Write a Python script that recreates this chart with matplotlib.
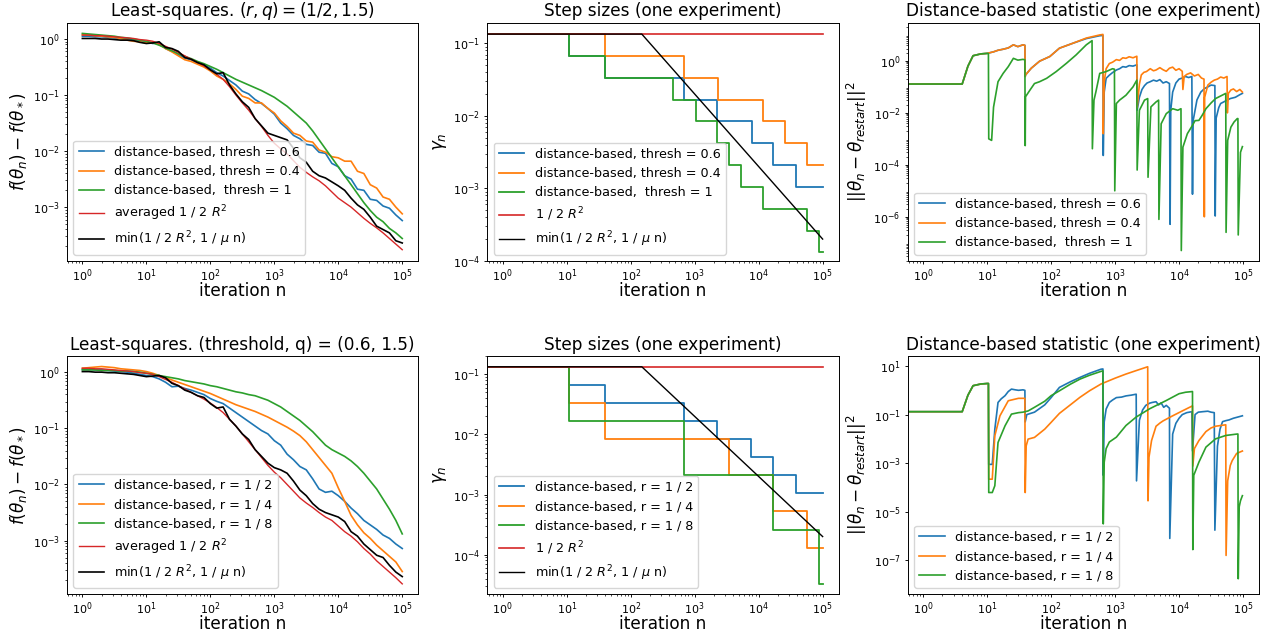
import numpy as np
import matplotlib
matplotlib.use("Agg")
import matplotlib.pyplot as plt

# ---------------------------------------------------------------------------
# values. Suboptimality curves use a log10(n) grid,
# stored as log10 of the plotted value.
# ---------------------------------------------------------------------------
log_n_grid = [0.0, 0.1, 0.2, 0.3, 0.4, 0.5, 0.6, 0.7, 0.8, 0.9,
              1.0, 1.1, 1.2, 1.3, 1.4, 1.5, 1.6, 1.7, 1.8, 1.9,
              2.0, 2.1, 2.2, 2.3, 2.4, 2.5, 2.6, 2.7, 2.8, 2.9,
              3.0, 3.1, 3.2, 3.3, 3.4, 3.5, 3.6, 3.7, 3.8, 3.9,
              4.0, 4.1, 4.2, 4.3, 4.4, 4.5, 4.6, 4.7, 4.8, 4.9, 5.0]

# top row: thresholds
top_thresh06 = [0.05, 0.05, 0.04, 0.04, 0.03, 0.02, 0.01, 0.00, -0.02, -0.03,
                -0.05, -0.08, -0.06, -0.17, -0.22, -0.28, -0.34, -0.37, -0.42, -0.46,
                -0.52, -0.60, -0.66, -0.74, -0.82, -0.93, -0.98, -1.08, -1.15, -1.24,
                -1.34, -1.50, -1.60, -1.72, -1.78, -1.88, -1.90, -2.02, -2.04, -2.22,
                -2.28, -2.44, -2.50, -2.68, -2.70, -2.86, -2.88, -2.98, -3.02, -3.14, -3.24]
top_thresh04 = [0.08, 0.07, 0.06, 0.05, 0.04, 0.03, 0.01, -0.02, -0.04, -0.05,
                -0.07, -0.06, -0.10, -0.17, -0.23, -0.30, -0.37, -0.40, -0.45, -0.50,
                -0.57, -0.66, -0.72, -0.80, -0.90, -1.02, -1.06, -1.14, -1.14, -1.24,
                -1.32, -1.46, -1.56, -1.68, -1.72, -1.82, -1.84, -1.98, -2.02, -2.10,
                -2.12, -2.18, -2.18, -2.36, -2.40, -2.60, -2.66, -2.82, -2.86, -3.00, -3.12]
top_thresh1 = [0.10, 0.09, 0.08, 0.07, 0.06, 0.05, 0.03, 0.02, 0.00, -0.02,
               -0.04, -0.07, -0.11, -0.16, -0.21, -0.26, -0.31, -0.35, -0.40, -0.44,
               -0.49, -0.54, -0.60, -0.66, -0.72, -0.77, -0.82, -0.87, -0.92, -0.98,
               -1.04, -1.12, -1.20, -1.30, -1.40, -1.50, -1.64, -1.80, -1.96, -2.12,
               -2.28, -2.44, -2.60, -2.76, -2.92, -3.06, -3.18, -3.26, -3.38, -3.46, -3.56]
top_avg = [0.07, 0.07, 0.06, 0.06, 0.05, 0.04, 0.03, 0.02, 0.01, -0.01,
           -0.02, -0.04, -0.08, -0.13, -0.18, -0.24, -0.30, -0.36, -0.42, -0.48,
           -0.55, -0.63, -0.72, -0.85, -1.00, -1.14, -1.27, -1.42, -1.56, -1.72,
           -1.86, -1.96, -2.05, -2.17, -2.29, -2.38, -2.46, -2.53, -2.62, -2.73,
           -2.84, -2.92, -3.00, -3.10, -3.20, -3.29, -3.37, -3.46, -3.56, -3.66, -3.76]
top_min = [0.01, 0.01, 0.01, 0.00, 0.00, -0.01, -0.02, -0.02, -0.03, -0.06,
           -0.08, -0.07, -0.05, -0.15, -0.17, -0.22, -0.33, -0.36, -0.42, -0.46,
           -0.55, -0.62, -0.60, -0.82, -0.98, -1.12, -1.22, -1.42, -1.55, -1.68,
           -1.72, -1.76, -1.80, -1.95, -2.12, -2.20, -2.36, -2.44, -2.48, -2.55,
           -2.62, -2.70, -2.84, -2.96, -3.04, -3.18, -3.34, -3.40, -3.46, -3.60, -3.64]

# bottom row: ratios r
bot_r2 = [0.05, 0.05, 0.04, 0.04, 0.03, 0.02, 0.01, 0.00, -0.02, -0.04,
          -0.06, -0.08, -0.12, -0.18, -0.26, -0.25, -0.29, -0.32, -0.36, -0.40,
          -0.47, -0.52, -0.56, -0.64, -0.72, -0.80, -0.88, -0.96, -1.04, -1.10,
          -1.22, -1.30, -1.46, -1.56, -1.68, -1.74, -1.90, -2.08, -2.14, -2.12,
          -2.20, -2.30, -2.42, -2.52, -2.64, -2.72, -2.80, -2.90, -2.96, -3.06, -3.14]
bot_r4 = [0.07, 0.08, 0.09, 0.10, 0.09, 0.08, 0.06, 0.05, 0.04, 0.03,
          0.01, -0.02, -0.06, -0.10, -0.14, -0.18, -0.22, -0.26, -0.30, -0.34,
          -0.38, -0.43, -0.48, -0.53, -0.58, -0.62, -0.66, -0.70, -0.75, -0.80,
          -0.86, -0.92, -0.98, -1.05, -1.13, -1.24, -1.38, -1.52, -1.66, -1.80,
          -2.06, -2.30, -2.55, -2.72, -2.86, -2.96, -3.08, -3.18, -3.28, -3.38, -3.55]
bot_r8 = [0.04, 0.04, 0.04, 0.03, 0.03, 0.03, 0.02, 0.02, 0.01, 0.00,
          -0.02, -0.04, -0.06, -0.08, -0.10, -0.12, -0.15, -0.17, -0.19, -0.21,
          -0.24, -0.26, -0.29, -0.32, -0.35, -0.37, -0.40, -0.42, -0.46, -0.50,
          -0.56, -0.62, -0.70, -0.78, -0.86, -0.96, -1.06, -1.18, -1.30, -1.38,
          -1.44, -1.50, -1.58, -1.68, -1.80, -1.94, -2.08, -2.26, -2.44, -2.64, -2.88]
bot_avg = [0.07, 0.07, 0.06, 0.06, 0.05, 0.04, 0.03, 0.02, 0.01, -0.01,
           -0.02, -0.04, -0.08, -0.13, -0.18, -0.24, -0.30, -0.36, -0.42, -0.48,
           -0.55, -0.63, -0.72, -0.84, -0.96, -1.10, -1.24, -1.38, -1.52, -1.66,
           -1.78, -1.88, -2.00, -2.12, -2.24, -2.33, -2.41, -2.50, -2.58, -2.64,
           -2.74, -2.84, -2.92, -3.02, -3.14, -3.24, -3.36, -3.46, -3.56, -3.66, -3.77]
bot_min = [0.01, 0.01, 0.00, 0.00, -0.01, -0.01, -0.02, -0.03, -0.04, -0.06,
           -0.08, -0.07, -0.06, -0.10, -0.20, -0.24, -0.32, -0.36, -0.42, -0.45,
           -0.56, -0.64, -0.62, -0.84, -0.96, -1.10, -1.20, -1.38, -1.50, -1.62,
           -1.70, -1.74, -1.80, -1.94, -2.10, -2.20, -2.34, -2.44, -2.50, -2.54,
           -2.58, -2.66, -2.84, -2.92, -3.06, -3.16, -3.26, -3.30, -3.44, -3.56, -3.64]

# step sizes: change points (n) and step value after each change
gamma_const_n = [0.5, 100000]
gamma_const = [0.134, 0.134]
gamma_min_n = [0.5, 149, 100000]
gamma_min = [0.134, 0.134, 0.0002]

top_step06_n = [0.5, 11, 39, 680, 2270, 7800, 17000, 39000, 100000]
top_step06 = [0.134, 0.067, 0.0335, 0.01675, 0.008375, 0.00419, 0.00209, 0.00105, 0.00105]
top_step04_n = [0.5, 39, 680, 2300, 11500, 25600, 57000, 100000]
top_step04 = [0.134, 0.067, 0.0335, 0.01675, 0.008375, 0.00419, 0.00209, 0.00209]
top_step1_n = [0.5, 11, 39, 455, 1040, 2270, 3400, 5200, 11500, 57000, 87000, 100000]
top_step1 = [0.134, 0.067, 0.0335, 0.01675, 0.008375, 0.00419, 0.00209, 0.00105,
             0.000523, 0.000262, 0.000131, 0.000131]

bot_step2_n = [0.5, 11, 39, 680, 2250, 7700, 17000, 38800, 100000]
bot_step2 = [0.134, 0.067, 0.0335, 0.01675, 0.008375, 0.00419, 0.00209, 0.00105, 0.00105]
bot_step4_n = [0.5, 11, 39, 3450, 17000, 57000, 100000]
bot_step4 = [0.134, 0.0335, 0.008375, 0.00209, 0.000523, 0.000131, 0.000131]
bot_step8_n = [0.5, 11, 680, 17000, 87000, 100000]
bot_step8 = [0.134, 0.01675, 0.00209, 0.000262, 0.0000327, 0.0000327]

# distance statistic, (log10 n, log10 value) pairs
tr_thresh06 = [(-0.3, -0.89), (0.61, -0.89), (0.70, -0.20), (0.78, 0.20), (0.90, 0.27), (1.00, 0.29),
               (1.10, 0.35), (1.17, 0.41), (1.25, 0.45), (1.33, 0.50), (1.41, 0.62), (1.48, 0.55),
               (1.56, 0.62), (1.59, 0.60), (1.595, -0.60), (1.60, -0.54), (1.69, -0.28), (1.82, -0.01),
               (1.98, 0.17), (2.13, 0.49), (2.34, 0.68), (2.55, 0.86), (2.76, 0.97), (2.81, 0.98),
               (2.815, -3.64), (2.83, -1.20), (2.86, -0.67), (2.91, -0.55), (2.96, -0.45), (3.02, -0.35),
               (3.07, -0.30), (3.12, -0.22), (3.17, -0.24), (3.22, -0.18), (3.28, -0.20), (3.34, -0.15),
               (3.345, -1.90), (3.38, -1.40), (3.42, -1.10), (3.46, -0.95), (3.50, -0.85), (3.55, -0.80),
               (3.60, -0.74), (3.65, -0.78), (3.70, -0.72), (3.75, -0.85), (3.80, -0.80), (3.85, -0.87),
               (3.86, -6.29), (3.87, -1.90), (3.90, -1.20), (3.95, -0.85), (4.00, -0.70), (4.05, -0.66),
               (4.10, -0.60), (4.15, -0.64), (4.20, -0.60), (4.21, -5.13), (4.22, -2.30), (4.28, -1.50),
               (4.34, -1.20), (4.40, -1.06), (4.45, -1.00), (4.50, -0.93), (4.56, -0.95),
               (4.565, -5.97), (4.58, -2.20), (4.62, -1.80), (4.65, -1.64), (4.72, -1.55),
               (4.80, -1.45), (4.88, -1.40), (4.95, -1.30), (4.99, -1.25)]
tr_thresh04 = [(-0.3, -0.89), (0.61, -0.89), (0.70, -0.20), (0.78, 0.20), (0.90, 0.27), (1.00, 0.29),
               (1.10, 0.35), (1.17, 0.41), (1.25, 0.45), (1.33, 0.50), (1.41, 0.62), (1.48, 0.55),
               (1.56, 0.62), (1.59, 0.60), (1.595, -0.60), (1.60, -0.54), (1.69, -0.28), (1.82, -0.01),
               (1.98, 0.17), (2.13, 0.49), (2.34, 0.68), (2.55, 0.88), (2.76, 1.00), (2.81, 1.02),
               (2.815, -2.80), (2.83, -0.80), (2.86, -0.30), (2.91, -0.10), (2.96, -0.05), (3.02, 0.05),
               (3.07, 0.02), (3.12, 0.12), (3.17, 0.10), (3.22, 0.16), (3.28, 0.12), (3.34, 0.18),
               (3.345, -1.80), (3.38, -0.90), (3.41, -0.54), (3.45, -0.44), (3.49, -0.41), (3.55, -0.30),
               (3.60, -0.38), (3.64, -0.35), (3.70, -0.26), (3.75, -0.34), (3.80, -0.40), (3.85, -0.28),
               (3.90, -0.24), (3.95, -0.36), (4.00, -0.30), (4.05, -0.40), (4.06, -1.10), (4.08, -0.60),
               (4.12, -0.52), (4.18, -0.46), (4.24, -0.58), (4.30, -0.52), (4.35, -0.66), (4.39, -0.70),
               (4.395, -6.00), (4.40, -1.40), (4.45, -0.93), (4.50, -0.82), (4.55, -0.74), (4.60, -0.70),
               (4.65, -0.62), (4.70, -0.66), (4.75, -0.60), (4.755, -2.00), (4.77, -1.25), (4.81, -1.12),
               (4.85, -1.08), (4.90, -1.18), (4.95, -1.10), (4.99, -1.20)]
tr_thresh1 = [(-0.3, -0.89), (0.61, -0.89), (0.70, -0.20), (0.78, 0.20), (0.90, 0.27), (1.00, 0.29),
              (1.02, 0.28), (1.025, -3.00), (1.07, -3.06), (1.10, -1.78), (1.17, -0.80), (1.25, -0.48),
              (1.33, -0.22), (1.41, 0.10), (1.48, 0.03), (1.56, 0.06), (1.59, 0.04), (1.595, -3.26),
              (1.60, -1.38), (1.67, -1.12), (1.74, -0.87), (1.82, -0.80), (1.93, -0.67), (2.08, -0.41),
              (2.24, -0.09), (2.39, 0.23), (2.55, 0.62), (2.64, 0.78), (2.645, -3.38), (2.67, -1.51),
              (2.70, -1.19), (2.76, -0.48), (2.86, -0.41), (2.96, -0.30), (2.99, -0.32), (2.995, -5.00),
              (3.02, -1.64), (3.07, -1.51), (3.17, -1.32), (3.28, -1.00), (3.34, -0.74), (3.345, -4.20),
              (3.38, -1.90), (3.46, -1.51), (3.51, -1.45), (3.515, -4.48), (3.56, -1.77), (3.64, -1.58),
              (3.68, -1.51), (3.685, -6.10), (3.72, -2.42), (3.80, -2.03), (3.90, -1.84), (3.98, -1.90),
              (4.03, -1.84), (4.035, -7.30), (4.06, -3.32), (4.13, -2.80), (4.21, -2.48), (4.25, -2.30),
              (4.31, -2.29), (4.36, -2.10), (4.42, -1.84), (4.50, -1.62), (4.57, -1.45), (4.65, -1.35),
              (4.73, -1.25), (4.735, -6.60), (4.76, -3.06), (4.81, -2.55), (4.86, -2.35), (4.91, -2.22),
              (4.92, -2.22), (4.925, -6.70), (4.96, -3.52), (4.99, -3.30)]

br_r2 = [(-0.3, -0.88), (0.61, -0.88), (0.70, -0.20), (0.78, 0.19), (0.90, 0.26), (1.00, 0.28),
         (1.02, 0.28), (1.025, -3.05), (1.08, -3.05), (1.12, -1.60), (1.17, -0.50), (1.22, -0.35),
         (1.28, -0.22), (1.33, -0.05), (1.38, 0.05), (1.44, 0.02), (1.49, 0.00), (1.56, 0.02),
         (1.59, 0.00), (1.595, -1.30), (1.62, -1.00), (1.68, -0.95), (1.74, -0.90), (1.82, -0.75),
         (1.90, -0.60), (2.00, -0.30), (2.13, 0.12), (2.30, 0.35), (2.45, 0.53), (2.60, 0.70),
         (2.78, 0.87), (2.81, 0.88), (2.815, -3.50), (2.83, -1.30), (2.86, -0.77), (2.91, -0.50),
         (2.96, -0.40), (3.02, -0.30), (3.10, -0.28), (3.17, -0.23), (3.25, -0.20), (3.33, -0.16),
         (3.335, -3.73), (3.38, -1.23), (3.43, -0.81), (3.48, -0.62), (3.54, -0.53), (3.58, -0.50),
         (3.64, -0.47), (3.68, -0.60), (3.72, -0.52), (3.76, -0.70), (3.80, -0.62), (3.85, -0.74),
         (3.855, -6.10), (3.90, -1.80), (3.95, -1.36), (4.00, -1.15), (4.05, -1.00), (4.12, -0.92),
         (4.20, -0.88), (4.21, -2.50), (4.25, -1.00), (4.30, -0.90), (4.37, -0.88), (4.45, -0.86),
         (4.50, -0.90), (4.55, -0.92), (4.56, -5.76), (4.60, -2.30), (4.64, -1.60), (4.68, -1.29),
         (4.73, -1.25), (4.78, -1.22), (4.85, -1.15), (4.92, -1.10), (4.99, -1.05)]
br_r4 = [(-0.3, -0.88), (0.61, -0.88), (0.70, -0.20), (0.78, 0.19), (0.90, 0.26), (1.00, 0.28),
         (1.02, 0.28), (1.025, -3.66), (1.08, -3.66), (1.12, -1.87), (1.20, -1.05), (1.33, -0.43),
         (1.49, -0.33), (1.59, -0.33), (1.595, -4.21), (1.61, -2.29), (1.64, -2.01), (1.74, -1.94),
         (1.90, -1.60), (2.00, -1.32), (2.13, -0.95), (2.30, -0.60), (2.45, -0.29), (2.60, -0.02),
         (2.78, 0.26), (3.00, 0.50), (3.17, 0.67), (3.35, 0.83), (3.51, 0.97), (3.515, -4.55),
         (3.53, -2.75), (3.57, -2.07), (3.64, -1.48), (3.70, -1.35), (3.75, -1.26), (3.90, -1.05),
         (4.05, -0.85), (4.21, -0.64), (4.215, -3.12), (4.24, -2.40), (4.31, -2.07), (4.42, -1.70),
         (4.50, -1.55), (4.57, -1.48), (4.65, -1.45), (4.73, -1.42), (4.735, -6.80), (4.76, -3.73),
         (4.80, -3.10), (4.83, -2.90), (4.90, -2.60), (4.99, -2.50)]
br_r8 = [(-0.3, -0.88), (0.61, -0.88), (0.70, -0.20), (0.78, 0.19), (0.90, 0.26), (1.00, 0.28),
         (1.02, 0.28), (1.025, -4.21), (1.08, -4.21), (1.12, -3.93), (1.17, -2.15), (1.28, -1.46),
         (1.38, -0.98), (1.49, -0.92), (1.56, -0.90), (1.64, -0.85), (1.74, -0.70), (1.90, -0.45),
         (2.00, -0.22), (2.13, -0.02), (2.30, 0.25), (2.45, 0.46), (2.60, 0.62), (2.78, 0.78),
         (2.81, 0.80), (2.815, -5.50), (2.83, -2.96), (2.86, -2.40), (2.91, -2.13), (3.02, -1.93),
         (3.17, -1.45), (3.33, -1.10), (3.54, -0.76), (3.80, -0.42), (4.00, -0.14), (4.10, -0.08),
         (4.21, -0.05), (4.215, -6.56), (4.23, -3.50), (4.31, -2.96), (4.42, -2.34), (4.57, -2.00),
         (4.73, -1.86), (4.85, -1.82), (4.91, -1.80), (4.92, -1.80), (4.925, -7.76), (4.94, -4.80),
         (4.96, -4.55), (4.99, -4.34)]

labels_thresh = ["distance-based, thresh = 0.6", "distance-based, thresh = 0.4",
                 "distance-based,  thresh = 1"]
labels_r = ["distance-based, r = 1 / 2", "distance-based, r = 1 / 4",
            "distance-based, r = 1 / 8"]
label_avg = r"averaged 1 / 2 $R^2$"
label_const = r"1 / 2 $R^2$"
label_min = r"min(1 / 2 $R^2$, 1 / $\mu$ n)"

C = ["#1f77b4", "#ff7f0e", "#2ca02c"]
RED = "#d62728"

# the source figure looks like a default-style figure scaled down a bit
plt.rcParams.update({
    "xtick.major.size": 2.5, "ytick.major.size": 2.5,
    "xtick.minor.size": 1.5, "ytick.minor.size": 1.5,
    "xtick.major.width": 0.65, "ytick.major.width": 0.65,
    "xtick.minor.width": 0.5, "ytick.minor.width": 0.5,
    "xtick.major.pad": 2.4, "ytick.major.pad": 2.7,
    "xtick.minor.pad": 2.4, "ytick.minor.pad": 2.7,
    "axes.linewidth": 0.7,
    "axes.labelpad": 3.0,
    "axes.titlepad": 4.7,
    "legend.fontsize": 9.2,
})


def pw(vals):
    return np.power(10.0, np.array(vals))


def unzip(pairs):
    a = np.array(pairs)
    return pw(a[:, 0]), pw(a[:, 1])


fig, axes = plt.subplots(2, 3, figsize=(12.72, 6.37), dpi=100)
plt.subplots_adjust(left=0.0527, right=0.9898, bottom=0.0675, top=0.9639,
                    wspace=0.197, hspace=0.40)

n_grid = pw(log_n_grid)
rows = [
    dict(title="Least-squares. $(r, q) = (1/2, 1.5)$", curves=[top_thresh06, top_thresh04, top_thresh1],
         avg=top_avg, mn=top_min, labels=labels_thresh, ylim1=(-3.96, 0.286),
         steps=[(top_step06_n, top_step06), (top_step04_n, top_step04), (top_step1_n, top_step1)],
         ylim2=(-4.0, -0.72), stats=[tr_thresh06, tr_thresh04, tr_thresh1], ylim3=(-7.70, 1.46),
         yt3=[1e0, 1e-2, 1e-4, 1e-6]),
    dict(title="Least-squares. (threshold, q) = (0.6, 1.5)", curves=[bot_r2, bot_r4, bot_r8],
         avg=bot_avg, mn=bot_min, labels=labels_r, ylim1=(-3.95, 0.286),
         steps=[(bot_step2_n, bot_step2), (bot_step4_n, bot_step4), (bot_step8_n, bot_step8)],
         ylim2=(-4.655, -0.695), stats=[br_r2, br_r4, br_r8], ylim3=(-8.39, 1.41),
         yt3=[1e1, 1e-1, 1e-3, 1e-5, 1e-7]),
]

for i, row in enumerate(rows):
    ax1, ax2, ax3 = axes[i]

    # suboptimality
    for k in range(3):
        ax1.plot(n_grid, pw(row["curves"][k]), color=C[k], lw=1.2, label=row["labels"][k])
    ax1.plot(n_grid, pw(row["avg"]), color=RED, lw=1.0, label=label_avg)
    ax1.plot(n_grid, pw(row["mn"]), color="k", lw=1.2, label=label_min)
    ax1.set_title(row["title"], fontsize=12.2)
    ax1.set_ylabel(r"$f(\theta_n) - f(\theta_*)$", fontsize=12.2)
    ax1.set_ylim(10 ** row["ylim1"][0], 10 ** row["ylim1"][1])

    # step sizes
    for k in range(3):
        sn, sg = row["steps"][k]
        ax2.step(sn, sg, where="post", color=C[k], lw=1.3, label=row["labels"][k])
    ax2.plot(gamma_const_n, gamma_const, color=RED, lw=1.2, label=label_const)
    ax2.plot(gamma_min_n, gamma_min, color="k", lw=1.0, label=label_min)
    ax2.set_title("Step sizes (one experiment)", fontsize=12.2)
    ax2.set_ylabel(r"$\gamma_n$", fontsize=12.2)
    ax2.set_ylim(10 ** row["ylim2"][0], 10 ** row["ylim2"][1])

    # distance statistic
    for k in range(3):
        xs, ys = unzip(row["stats"][k])
        ax3.plot(xs, ys, color=C[k], lw=1.2, label=row["labels"][k])
    ax3.set_title("Distance-based statistic (one experiment)", fontsize=12.2)
    ax3.set_ylabel(r"$||\theta_n - \theta_{restart}||^2$", fontsize=12.2)
    ax3.set_ylim(10 ** row["ylim3"][0], 10 ** row["ylim3"][1])

    for ax in (ax1, ax2, ax3):
        ax.set_xscale("log")
        ax.set_yscale("log")
        ax.set_xlim(10 ** -0.24, 10 ** 5.25)
        ax.set_xlabel("iteration n", fontsize=12.2, labelpad=-1.5)
        ax.tick_params(labelsize=8)
        ax.legend(loc="lower left")
    ax3.set_yticks(row["yt3"])

fig.savefig("out.png", dpi=100)
